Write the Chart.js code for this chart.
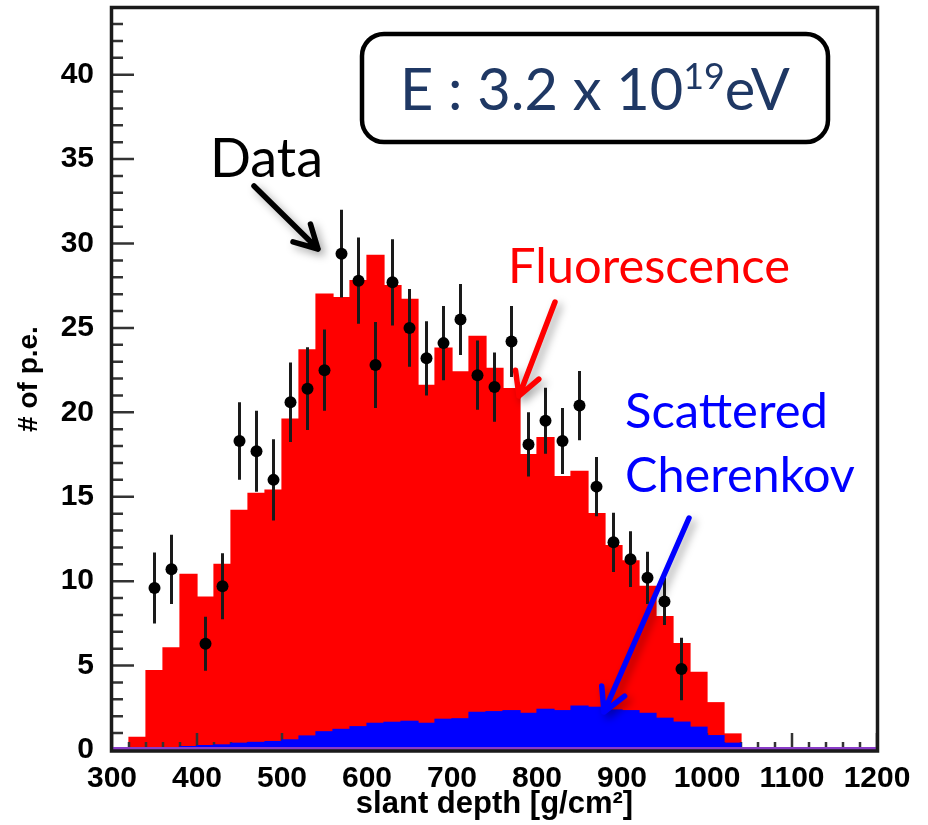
<!DOCTYPE html>
<html>
<head>
<meta charset="utf-8">
<script src="https://cdn.jsdelivr.net/npm/chart.js@4"></script>
<style>
  html, body { margin: 0; padding: 0; background: #fff; }
  #wrap { width: 928px; height: 825px; }
</style>
</head>
<body>
<div id="wrap"><canvas id="chart" width="928" height="825"></canvas></div>
<script>
// ── Data ────────────────────────────────────────────────────────────────────
const binCenters = [330, 350, 370, 390, 410, 430, 450, 470, 490, 510, 530, 550, 570, 590, 610, 630, 650, 670,
  690, 710, 730, 750, 770, 790, 810, 830, 850, 870, 890, 910, 930, 950, 970, 990, 1010, 1030];
const fluorescence = [0.75, 4.7, 6.05, 10.4, 9.05, 11.0, 14.2, 15.2, 15.4, 19.6, 23.7, 27.0, 26.8, 27.8, 29.3, 27.5, 26.7, 21.6,
  23.8, 22.4, 24.5, 22.6, 21.4, 17.5, 18.5, 16.2, 16.5, 14.0, 12.1, 11.2, 9.7, 7.9, 6.3, 4.6, 2.8, 0.95];
const scatteredCherenkov = [0, 0, 0.05, 0.2, 0.26, 0.3, 0.4, 0.45, 0.5, 0.6, 0.83, 1.08, 1.22, 1.38, 1.58, 1.64, 1.7, 1.58,
  1.82, 1.85, 2.23, 2.27, 2.33, 2.17, 2.41, 2.33, 2.6, 2.53, 2.37, 2.33, 2.17, 1.88, 1.65, 1.35, 0.85, 0.4];

const dataDepth = [350, 370, 410, 430, 450, 470, 490, 510, 530, 550, 570, 590, 610, 630, 650, 670,
  690, 710, 730, 750, 770, 790, 810, 830, 850, 870, 890, 910, 930, 950, 970];
const dataPe = [9.6, 10.7, 6.3, 9.7, 18.3, 17.7, 16.0, 20.6, 21.4, 22.5, 29.4, 27.8, 22.8, 27.7, 25.0, 23.2,
  24.1, 25.5, 22.2, 21.5, 24.2, 18.1, 19.5, 18.3, 20.4, 15.6, 12.3, 11.3, 10.2, 8.8, 4.8];
const dataErr = [2.1, 2.05, 1.6, 1.95, 2.3, 2.4, 2.4, 2.35, 2.45, 2.4, 2.6, 2.55, 2.55, 2.55, 2.3, 2.2,
  2.2, 2.1, 2.05, 2.05, 2.1, 1.9, 1.95, 1.95, 2.05, 1.75, 1.75, 1.65, 1.55, 1.4, 1.85];

const baselineDepth = [300, 1200];
const baselinePe = [0.08, 0.08];

const xTickLabels = [300, 400, 500, 600, 700, 800, 900, 1000, 1100, 1200];
const yTickLabels = [0, 5, 10, 15, 20, 25, 30, 35, 40];

const RED = '#ff0000';
const BLUE = '#0000ff';
const PURPLE = '#8a3cc8';
const AXIS_FONT = '"Liberation Sans", Arial, Helvetica, sans-serif';
const NOTE_FONT = 'Lato, "Open Sans", sans-serif';

// ── Helpers ─────────────────────────────────────────────────────────────────
function fitText(ctx, text, left, baseline, width, color) {
  ctx.font = `100px ${NOTE_FONT}`;
  const size = 100 * width / ctx.measureText(text).width;
  ctx.font = `${size}px ${NOTE_FONT}`;
  ctx.fillStyle = color;
  ctx.textBaseline = 'alphabetic';
  ctx.textAlign = 'left';
  ctx.fillText(text, left, baseline);
}

function arrow(ctx, x1, y1, x2, y2, color) {
  const ang = Math.atan2(y2 - y1, x2 - x1);
  const head = 26, spread = 0.5;
  ctx.save();
  ctx.strokeStyle = color;
  ctx.lineWidth = 5.5;
  ctx.lineCap = 'round';
  ctx.lineJoin = 'round';
  ctx.shadowColor = 'rgba(0,0,0,0.35)';
  ctx.shadowBlur = 8;
  ctx.shadowOffsetX = 4;
  ctx.shadowOffsetY = 4;
  ctx.beginPath();
  ctx.moveTo(x1, y1);
  ctx.lineTo(x2, y2);
  ctx.moveTo(x2 - head * Math.cos(ang - spread), y2 - head * Math.sin(ang - spread));
  ctx.lineTo(x2, y2);
  ctx.lineTo(x2 - head * Math.cos(ang + spread), y2 - head * Math.sin(ang + spread));
  ctx.stroke();
  ctx.restore();
}

// fixed axis boxes so the frame sits where the reference has it
function fixBox(s, size) {
  if (s.isHorizontal()) s.height = size; else s.width = size;
  s.paddingTop = 0;
  s.paddingBottom = 0;
  s.paddingLeft = 0;
  s.paddingRight = 0;
}

// ── Plugins ─────────────────────────────────────────────────────────────────
// inside tick marks, drawn after the red histogram and before the blue one
const axisTicks = {
  id: 'axisTicks',
  afterDatasetDraw(chart, args) {
    if (args.index !== 0) return;
    const { ctx, chartArea: a, scales: { x, y } } = chart;
    ctx.save();
    ctx.strokeStyle = '#333';
    ctx.lineWidth = 2.5;
    ctx.beginPath();
    for (let v = 300; v <= 1200; v += 20) {
      const px = x.getPixelForValue(v);
      const len = v % 100 === 0 ? 17 : 8;
      ctx.moveTo(px, a.bottom);
      ctx.lineTo(px, a.bottom - len);
    }
    for (let v = 0; v <= 43; v++) {
      const py = y.getPixelForValue(v);
      const len = v % 5 === 0 ? 22 : 11;
      ctx.moveTo(a.left, py);
      ctx.lineTo(a.left + len, py);
    }
    ctx.stroke();
    ctx.restore();
  }
};

const errorBars = {
  id: 'errorBars',
  beforeDatasetDraw(chart, args) {
    if (chart.data.datasets[args.index].label !== 'Data') return;
    const { ctx, scales: { x, y } } = chart;
    ctx.save();
    ctx.strokeStyle = '#1a1a1a';
    ctx.lineWidth = 3;
    ctx.beginPath();
    dataDepth.forEach((d, i) => {
      const px = x.getPixelForValue(d);
      ctx.moveTo(px, y.getPixelForValue(dataPe[i] + dataErr[i]));
      ctx.lineTo(px, y.getPixelForValue(dataPe[i] - dataErr[i]));
    });
    ctx.stroke();
    ctx.restore();
  }
};

const frameAndNotes = {
  id: 'frameAndNotes',
  afterDraw(chart) {
    const { ctx, chartArea: a } = chart;
    ctx.save();
    ctx.strokeStyle = '#1a1a1a';
    ctx.lineWidth = 3.5;
    ctx.strokeRect(a.left - 0.5, a.top - 0.5, a.right - a.left + 1, a.bottom - a.top + 1.5);

    // energy box
    ctx.lineWidth = 4.5;
    ctx.strokeStyle = '#000';
    ctx.beginPath();
    ctx.roundRect(362, 34, 466, 108, 22);
    ctx.stroke();

    const main = 'E : 3.2 x 10', sup = '19', tail = 'eV';
    ctx.font = `100px ${NOTE_FONT}`;
    const wMain = ctx.measureText(main).width;
    const wTail = ctx.measureText(tail).width;
    ctx.font = `62px ${NOTE_FONT}`;
    const wSup = ctx.measureText(sup).width;
    const size = 100 * 390 / (wMain + wSup + wTail);
    let cx = 400;
    const base = 110;
    ctx.fillStyle = '#1f3864';
    ctx.textBaseline = 'alphabetic';
    ctx.font = `${size}px ${NOTE_FONT}`;
    ctx.fillText(main, cx, base);
    cx += ctx.measureText(main).width;
    ctx.font = `${size * 0.62}px ${NOTE_FONT}`;
    ctx.fillText(sup, cx, base - size * 0.36);
    cx += ctx.measureText(sup).width;
    ctx.font = `${size}px ${NOTE_FONT}`;
    ctx.fillText(tail, cx, base);

    // labels and arrows
    fitText(ctx, 'Data', 210, 177, 113, '#000');
    arrow(ctx, 254, 186, 318, 249, '#000');

    fitText(ctx, 'Fluorescence', 508, 283, 282, RED);
    arrow(ctx, 555, 302, 519, 396, RED);

    fitText(ctx, 'Scattered', 625, 428, 203, BLUE);
    fitText(ctx, 'Cherenkov', 625, 492, 230, BLUE);
    arrow(ctx, 689, 518, 604, 712, BLUE);
    ctx.restore();
  }
};

// ── Chart ───────────────────────────────────────────────────────────────────
const histBar = {
  type: 'bar',
  grouped: false,
  barPercentage: 1,
  categoryPercentage: 1,
  inflateAmount: 0.6,
  borderWidth: 0
};

new Chart(document.getElementById('chart'), {
  type: 'bar',
  data: {
    datasets: [
      { ...histBar, label: 'Fluorescence', order: 4, backgroundColor: RED,
        data: binCenters.map((x, i) => ({ x, y: fluorescence[i] })) },
      { ...histBar, label: 'Scattered Cherenkov', order: 3, backgroundColor: BLUE,
        data: binCenters.map((x, i) => ({ x, y: scatteredCherenkov[i] })) },
      { type: 'line', label: 'Baseline', order: 2, borderColor: PURPLE, borderWidth: 3.5, pointRadius: 0,
        data: baselineDepth.map((x, i) => ({ x, y: baselinePe[i] })) },
      { type: 'scatter', label: 'Data', order: 1, backgroundColor: '#000', borderWidth: 0, pointRadius: 6,
        data: dataDepth.map((x, i) => ({ x, y: dataPe[i] })) }
    ]
  },
  options: {
    responsive: false,
    animation: false,
    devicePixelRatio: 1,
    layout: { padding: { top: 8, right: 51, left: 0, bottom: 0 } },
    plugins: { legend: { display: false }, tooltip: { enabled: false } },
    scales: {
      x: {
        type: 'linear',
        min: 300,
        max: 1200,
        offset: false,
        grid: { display: false },
        border: { display: false },
        afterBuildTicks: s => { s.ticks = xTickLabels.map(v => ({ value: v })); },
        afterFit: s => fixBox(s, 75),
        ticks: { autoSkip: false, maxRotation: 0, padding: 3, color: '#000',
          callback: v => String(v),
          font: { family: AXIS_FONT, size: 30, weight: 'bold' } },
        title: { display: true, text: 'slant depth [g/cm²]', color: '#000',
          font: { family: AXIS_FONT, size: 31, weight: 'bold' }, padding: { top: 0, bottom: 2 } }
      },
      y: {
        min: 0,
        max: 43.95,
        grid: { display: false },
        border: { display: false },
        afterBuildTicks: s => { s.ticks = yTickLabels.map(v => ({ value: v })); },
        afterFit: s => fixBox(s, 112),
        ticks: { padding: 10, color: '#000', callback: v => String(v),
          font: { family: AXIS_FONT, size: 30, weight: 'bold' } },
        title: { display: true, text: '# of p.e.', color: '#000',
          font: { family: AXIS_FONT, size: 28, weight: 'bold' }, padding: { top: 12, bottom: 0 } }
      }
    }
  },
  plugins: [axisTicks, errorBars, frameAndNotes]
});
</script>
</body>
</html>
